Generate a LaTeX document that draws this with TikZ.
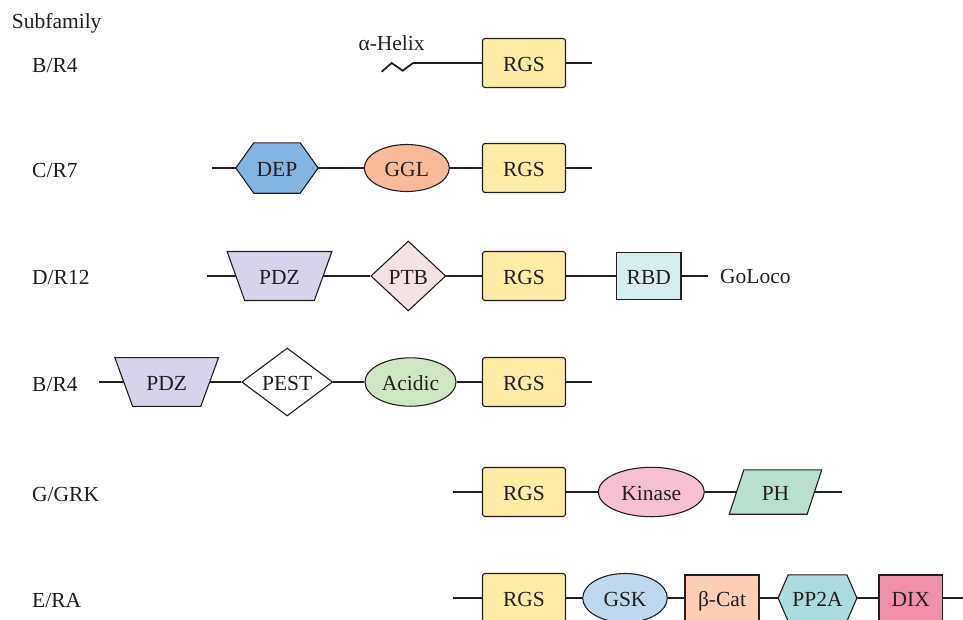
\documentclass[tikz,border=0pt]{standalone}
\usepackage{fontspec}
\setmainfont{Liberation Serif}
\usetikzlibrary{shapes.geometric,backgrounds}
\definecolor{ink}{HTML}{231F20}
\definecolor{rgsc}{HTML}{FDEBA6}
\definecolor{depc}{HTML}{82B5E2}
\definecolor{gglc}{HTML}{F8BA98}
\definecolor{pdzc}{HTML}{D6D3EA}
\definecolor{ptbc}{HTML}{F3E2E4}
\definecolor{rbdc}{HTML}{D7EEF1}
\definecolor{acidc}{HTML}{CFE6C3}
\definecolor{kinc}{HTML}{F7C0D0}
\definecolor{phc}{HTML}{B7E1CE}
\definecolor{gskc}{HTML}{BED8EF}
\definecolor{catc}{HTML}{FDCEB2}
\definecolor{ppc}{HTML}{AADCDE}
\definecolor{dixc}{HTML}{F091AB}
\tikzset{
  txt/.style={font=\fontsize{21.5}{25}\selectfont, text=ink, inner sep=0pt},
  dom/.style={txt, draw=ink, line width=1.1pt, text height=17.5pt, text depth=0pt},
  rgsbox/.style={dom, rectangle, rounded corners=2.5pt, fill=rgsc, minimum width=83pt, minimum height=49pt},
  sqbox/.style={dom, rectangle},
  ellbox/.style={dom, ellipse},
  dmdbox/.style={dom, diamond},
  host/.style={txt, rectangle, text height=17.5pt, text depth=0pt},
  polyline/.style={draw=ink, line width=1.1pt, line join=miter},
  conn/.style={draw=ink, line width=1.8pt},
  rowlabel/.style={txt, anchor=base west},
}
\begin{document}
\begin{tikzpicture}[x=1pt, y=-1pt]
\useasboundingbox (0,0) rectangle (963,619);
\begin{scope}[on background layer]
\fill[white] (0,0) rectangle (963,619);
\end{scope}

% header and row labels
\node[rowlabel] (sub) at (11.7,28.3) {Subfamily};
\node[rowlabel] (l1) at (32,72.5) {B/R4};
\node[rowlabel] (l2) at (32,177.5) {C/R7};
\node[rowlabel] (l3) at (32,284.5) {D/R12};
\node[rowlabel] (l4) at (32,391) {B/R4};
\node[rowlabel] (l5) at (32,501) {G/GRK};
\node[rowlabel] (l6) at (32,607) {E/RA};

% ---------- Row 1 ----------
\node[rowlabel] (helix) at (358.3,50) {α-Helix};
\coordinate (h0) at (381.7,71.7);
\coordinate (h1) at (413,63);
\node[rgsbox] (rgs1) at (524,63) {RGS};
\coordinate (e1) at (592,63);
\draw[conn, line join=miter] (h0) -- (391.7,63) -- (402.7,70.7) -- (h1);
\draw[conn] (h1) -- (rgs1.west);
\draw[conn] (rgs1.east) -- (e1);

% ---------- Row 2 ----------
\coordinate (s2) at (212,168);
\node[host, minimum width=82pt, minimum height=50pt] (dep) at (277,168) {DEP};
\node[ellbox, fill=gglc, minimum width=85pt, minimum height=47pt] (ggl) at (406.8,168) {GGL};
\node[rgsbox] (rgs2) at (524,168) {RGS};
\coordinate (e2) at (592,168);
\begin{scope}[on background layer]
\filldraw[polyline, fill=depc] (dep.west) -- ([xshift=18pt]dep.north west) -- ([xshift=-18pt]dep.north east) -- (dep.east) -- ([xshift=-18pt]dep.south east) -- ([xshift=18pt]dep.south west) -- cycle;
\end{scope}
\draw[conn] (s2) -- (dep.west);
\draw[conn] (dep.east) -- (ggl.west);
\draw[conn] (ggl.east) -- (rgs2.west);
\draw[conn] (rgs2.east) -- (e2);

% ---------- Row 3 ----------
\coordinate (s3) at (207,276);
\node[host, minimum width=86.8pt, minimum height=48.6pt] (pdz1) at (279.5,276) {PDZ};
\node[dmdbox, fill=ptbc, minimum width=75pt, minimum height=70pt] (ptb) at (408.3,276) {PTB};
\node[rgsbox] (rgs3) at (524,276) {RGS};
\node[sqbox, fill=rbdc, minimum width=64.3pt, minimum height=46.6pt] (rbd) at (648.8,276) {RBD};
\coordinate (e3) at (708,276);
\node[txt, anchor=west] (goloco) at (720,276.5) {GoLoco};
\begin{scope}[on background layer]
\filldraw[polyline, fill=pdzc] ([xshift=-8.8pt]pdz1.north west) -- ([xshift=8.8pt]pdz1.north east) -- ([xshift=-8.8pt]pdz1.south east) -- ([xshift=8.8pt]pdz1.south west) -- cycle;
\end{scope}
\draw[conn] (s3) -- (pdz1.west);
\draw[conn] (pdz1.east) -- (ptb.west);
\draw[conn] (ptb.east) -- (rgs3.west);
\draw[conn] (rgs3.east) -- (rbd.west);
\draw[conn] (rbd.east) -- (e3);

% ---------- Row 4 ----------
\coordinate (s4) at (99,382);
\node[host, minimum width=85.5pt, minimum height=48.4pt] (pdz2) at (166.7,382) {PDZ};
\node[dmdbox, fill=white, minimum width=91pt, minimum height=68pt] (pest) at (287.2,382) {PEST};
\node[ellbox, fill=acidc, minimum width=91pt, minimum height=48.4pt] (acid) at (410.5,382) {Acidic};
\node[rgsbox] (rgs4) at (524,382) {RGS};
\coordinate (e4) at (592,382);
\begin{scope}[on background layer]
\filldraw[polyline, fill=pdzc] ([xshift=-8.9pt]pdz2.north west) -- ([xshift=8.9pt]pdz2.north east) -- ([xshift=-8.9pt]pdz2.south east) -- ([xshift=8.9pt]pdz2.south west) -- cycle;
\end{scope}
\draw[conn] (s4) -- (pdz2.west);
\draw[conn] (pdz2.east) -- (pest.west);
\draw[conn] (pest.east) -- (acid.west);
\draw[conn] (acid.east) -- (rgs4.west);
\draw[conn] (rgs4.east) -- (e4);

% ---------- Row 5 ----------
\coordinate (s5) at (453,492);
\node[rgsbox] (rgs5) at (524,492) {RGS};
\node[ellbox, fill=kinc, minimum width=106pt, minimum height=49.4pt] (kin) at (651.3,492) {Kinase};
\node[host, minimum width=77.5pt, minimum height=44pt] (ph) at (775.5,492) {PH};
\coordinate (e5) at (842,492);
\begin{scope}[on background layer]
\filldraw[polyline, fill=phc] ([xshift=7.3pt]ph.north west) -- ([xshift=7.3pt]ph.north east) -- ([xshift=-7.3pt]ph.south east) -- ([xshift=-7.3pt]ph.south west) -- cycle;
\end{scope}
\draw[conn] (s5) -- (rgs5.west);
\draw[conn] (rgs5.east) -- (kin.west);
\draw[conn] (kin.east) -- (ph.west);
\draw[conn] (ph.east) -- (e5);

% ---------- Row 6 ----------
\coordinate (s6) at (453,598);
\node[rgsbox] (rgs6) at (524,598) {RGS};
\node[ellbox, fill=gskc, minimum width=84.6pt, minimum height=49pt] (gsk) at (625,598) {GSK};
\node[sqbox, fill=catc, minimum width=74pt, minimum height=46pt] (bcat) at (722,598) {β-Cat};
\node[host, minimum width=78.4pt, minimum height=46pt] (pp2a) at (817.5,598) {PP2A};
\node[sqbox, fill=dixc, minimum width=63.7pt, minimum height=46pt] (dix) at (910.8,598) {DIX};
\coordinate (e6) at (966,598);
\begin{scope}[on background layer]
\filldraw[polyline, fill=ppc] (pp2a.west) -- ([xshift=10pt]pp2a.north west) -- ([xshift=-10pt]pp2a.north east) -- (pp2a.east) -- ([xshift=-10pt]pp2a.south east) -- ([xshift=10pt]pp2a.south west) -- cycle;
\end{scope}
\draw[conn] (s6) -- (rgs6.west);
\draw[conn] (rgs6.east) -- (gsk.west);
\draw[conn] (gsk.east) -- (bcat.west);
\draw[conn] (bcat.east) -- (pp2a.west);
\draw[conn] (pp2a.east) -- (dix.west);
\draw[conn] (dix.east) -- (e6);
\end{tikzpicture}
\end{document}
